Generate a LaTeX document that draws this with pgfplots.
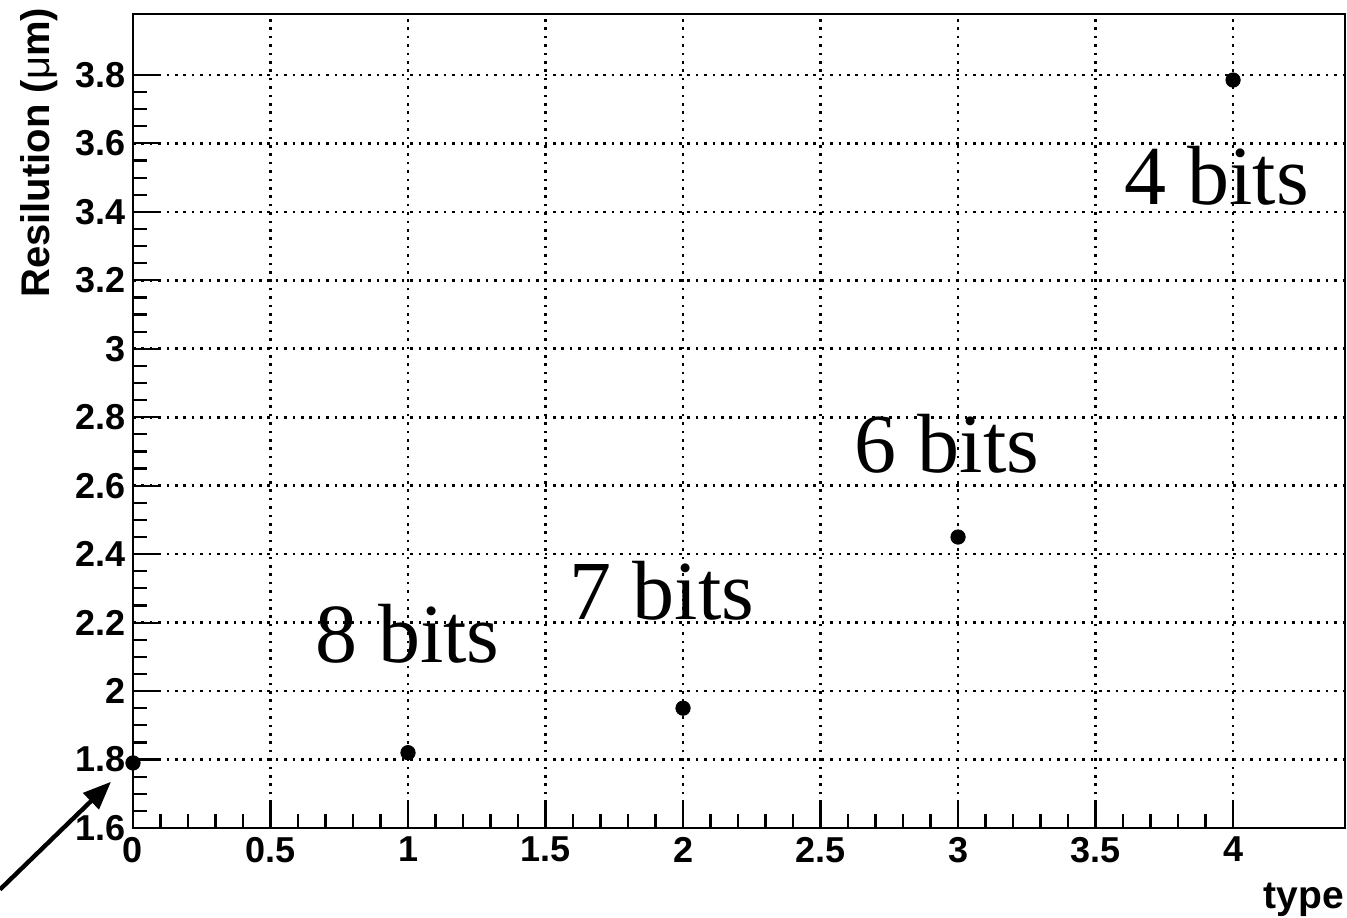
\documentclass[border=0pt]{standalone}
\usepackage{pgfplots}
\pgfplotsset{compat=1.18}
\usepackage{fontspec}
\setmainfont{Liberation Sans}
\newfontfamily\timesfont{Liberation Serif}
\usetikzlibrary{arrows.meta}
\begin{document}
\begin{tikzpicture}
\begin{axis}[
  name=ax,
  scale only axis,
  width=606pt, height=407pt,
  xmin=0, xmax=4.407, ymin=1.6, ymax=3.978,
  axis line style={line width=1.4pt},
  xtick={0,0.5,...,4},
  ytick={1.6,1.8,...,3.81},
  minor x tick num=4,
  minor y tick num=3,
  tick align=inside,
  xtick pos=bottom, ytick pos=left,
  major tick length=14pt, minor tick length=7pt,
  tick style={line width=1.1pt, black},
  grid=major,
  major grid style={line width=1.3pt, dash pattern=on 1.3pt off 2.9pt, black},
  xticklabel style={font=\fontsize{18}{20}\selectfont\bfseries, yshift=-1pt},
  yticklabel style={font=\fontsize{18}{20}\selectfont\bfseries},
  /pgf/number format/assume math mode=true,
  xticklabels={0,0.5,1,1.5,2,2.5,3,3.5,4},
  yticklabels={1.6,1.8,2,2.2,2.4,2.6,2.8,3,3.2,3.4,3.6,3.8},
  xlabel={\fontsize{19.5}{21}\selectfont\bfseries type},
  ylabel={\fontsize{20}{22}\selectfont\bfseries Resilution ({\mdseries μ}m)},
  xlabel style={at={(rel axis cs:1,0)}, anchor=north east, yshift=-24pt, xshift=3pt},
  ylabel style={at={(rel axis cs:0,1)}, anchor=south east, xshift=6.5pt, yshift=34pt},
  clip=false,
]
\addplot[only marks, mark=*, mark size=3.6pt, black] coordinates {
  (0,1.79) (1,1.82) (2,1.95) (3,2.45) (4,3.785)
};
\node[font=\timesfont\fontsize{42}{44}\selectfont, anchor=base] at (axis cs:0.997,2.083) {8 bits};
\node[font=\timesfont\fontsize{42}{44}\selectfont, anchor=base] at (axis cs:1.924,2.209) {7 bits};
\node[font=\timesfont\fontsize{42}{44}\selectfont, anchor=base] at (axis cs:2.96,2.638) {6 bits};
\node[font=\timesfont\fontsize{42}{44}\selectfont, anchor=base] at (axis cs:3.94,3.42) {4 bits};
\draw[-{Triangle[length=14pt,width=11pt]}, line width=2.2pt] (axis cs:-0.484,1.42) -- (axis cs:-0.08,1.735);
\end{axis}
\pgfresetboundingbox
\path ([xshift=-66.5pt,yshift=-45pt]ax.south west) rectangle ([xshift=1pt,yshift=7pt]ax.north east);
\end{tikzpicture}
\end{document}
